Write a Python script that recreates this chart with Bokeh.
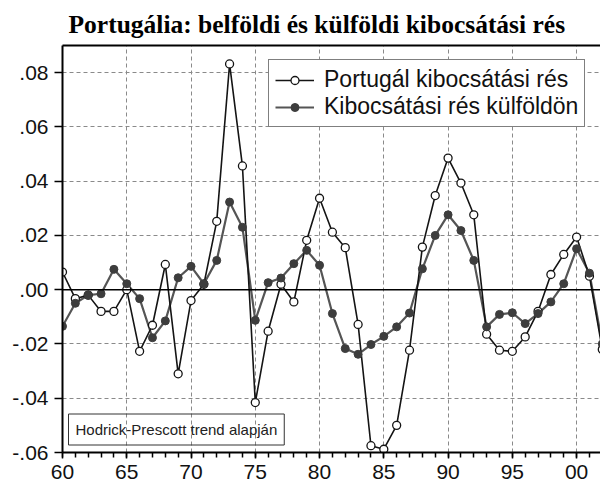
from bokeh.plotting import figure
from bokeh.models import (Range1d, FixedTicker, LinearAxis, Legend, LegendItem,
                          Label, Span)
from bokeh.embed import file_html
from bokeh.resources import INLINE

# ---------------- data ----------------
years = list(range(1960, 2003))

portugal_gap = [
    0.0065, -0.0033, -0.0020, -0.0080, -0.0080, 0.0000, -0.0227, -0.0131, 0.0093, -0.0310,
    -0.0040, 0.0020, 0.0252, 0.0832, 0.0456, -0.0416, -0.0153, 0.0020, -0.0045, 0.0182,
    0.0337, 0.0212, 0.0155, -0.0128, -0.0575, -0.0588, -0.0500, -0.0223, 0.0157, 0.0347,
    0.0485, 0.0393, 0.0276, -0.0164, -0.0223, -0.0227, -0.0174, -0.0080, 0.0056, 0.0130,
    0.0194, 0.0050, -0.0220,
]

foreign_gap = [
    -0.0135, -0.0050, -0.0020, -0.0015, 0.0075, 0.0022, -0.0033, -0.0177, -0.0115, 0.0044,
    0.0086, 0.0022, 0.0108, 0.0323, 0.0230, -0.0113, 0.0026, 0.0043, 0.0096, 0.0145,
    0.0090, -0.0088, -0.0217, -0.0238, -0.0202, -0.0172, -0.0137, -0.0086, 0.0077, 0.0200,
    0.0276, 0.0218, 0.0108, -0.0137, -0.0091, -0.0085, -0.0125, -0.0088, -0.0045, 0.0022,
    0.0151, 0.0061, -0.0200,
]

x_tick_values = [1960, 1965, 1970, 1975, 1980, 1985, 1990, 1995, 2000]
x_tick_labels = ["60", "65", "70", "75", "80", "85", "90", "95", "00"]
y_tick_values = [-0.06, -0.04, -0.02, 0.0, 0.02, 0.04, 0.06, 0.08]
y_tick_labels = ["-.06", "-.04", "-.02", ".00", ".02", ".04", ".06", ".08"]

title_text = "Portugália: belföldi és külföldi kibocsátási rés"
series_names = ["Portugál kibocsátási rés", "Kibocsátási rés külföldön"]
note_text = "Hodrick-Prescott trend alapján"

# ---------------- figure ----------------
FONT = "Liberation Sans"

p = figure(width=600, height=485, output_backend="svg", toolbar_location=None,
           x_range=Range1d(1960, 2001.86), y_range=Range1d(-0.06, 0.09),
           min_border_left=62, min_border_right=0, min_border_top=45,
           min_border_bottom=33)
p.outline_line_color = None
p.background_fill_color = "white"

p.title.text = title_text
p.title.text_font = "Liberation Serif"
p.title.text_font_style = "bold"
p.title.text_font_size = "25.5px"
p.title.align = "left"
p.title.offset = 6
p.title.standoff = 14
p.title.text_color = "black"

# grid
p.xgrid.ticker = FixedTicker(ticks=x_tick_values)
p.ygrid.ticker = FixedTicker(ticks=y_tick_values)
for g in (p.xgrid, p.ygrid):
    g.grid_line_color = "#8a8a8a"
    g.grid_line_dash = "4 3"
    g.grid_line_width = 1

# axes
xa = p.xaxis[0]
xa.ticker = FixedTicker(ticks=x_tick_values, minor_ticks=years)
xa.major_label_overrides = dict(zip(x_tick_values, x_tick_labels))
xa.major_tick_in = 0
xa.major_tick_out = 6
xa.minor_tick_in = 0
xa.minor_tick_out = 5
xa.major_label_standoff = 6

ya = p.yaxis[0]
ya.ticker = FixedTicker(ticks=y_tick_values)
ya.major_label_overrides = dict(zip(y_tick_values, y_tick_labels))
ya.major_tick_in = 0
ya.major_tick_out = 8
ya.minor_tick_out = 0
ya.major_label_standoff = 6

for ax in (xa, ya):
    ax.axis_line_color = "black"
    ax.axis_line_width = 2
    ax.major_tick_line_color = "black"
    ax.major_tick_line_width = 1.5
    ax.minor_tick_line_color = "black"
    ax.minor_tick_line_width = 1.5
    ax.major_label_text_font = FONT
    ax.major_label_text_font_size = "21px"
    ax.major_label_text_color = "#111111"

top_axis = LinearAxis(ticker=FixedTicker(ticks=[]), major_label_text_font_size="0px",
                      axis_line_color="black", axis_line_width=2,
                      major_tick_out=0, minor_tick_out=0, major_tick_in=0, minor_tick_in=0)
p.add_layout(top_axis, "above")

# zero line
p.add_layout(Span(location=0, dimension="width", line_color="black", line_width=1.5))

# series
f_line = p.line(years, foreign_gap, line_color="#555555", line_width=2.2)
pt_line = p.line(years, portugal_gap, line_color="#141414", line_width=1.6)
pt_mark = p.scatter(years, portugal_gap, size=8, marker="circle",
                    fill_color="white", line_color="#141414", line_width=1.3)
f_mark = p.scatter(years, foreign_gap, size=8, marker="circle",
                   fill_color="#3d3d3d", line_color="#3d3d3d", line_width=1)

legend = Legend(items=[LegendItem(label=series_names[0], renderers=[pt_line, pt_mark]),
                       LegendItem(label=series_names[1], renderers=[f_line, f_mark])],
                location=(206, 325))
legend.label_text_font = FONT
legend.label_text_font_size = "23px"
legend.label_text_color = "#111111"
legend.glyph_width = 39
legend.label_standoff = 10
legend.padding = 6
legend.spacing = 0
legend.margin = 0
legend.border_line_color = "black"
legend.border_line_width = 1.5
legend.background_fill_color = "white"
legend.background_fill_alpha = 1
p.add_layout(legend)

# note box (double border)
note_outer = Label(x=3, y=23, x_units="screen", y_units="screen", text=note_text,
                   text_font=FONT, text_font_size="15px", text_alpha=0,
                   text_baseline="middle", text_align="left",
                   padding=10, border_line_color="black", border_line_width=1.5,
                   background_fill_color="white")
note_inner = Label(x=6, y=23, x_units="screen", y_units="screen", text=note_text,
                   text_font=FONT, text_font_size="15px", text_color="#222222",
                   text_baseline="middle", text_align="left",
                   padding=7, border_line_color="#333333", border_line_width=1)
p.add_layout(note_outer)
p.add_layout(note_inner)

open("out.html", "w").write(file_html(p, INLINE))
